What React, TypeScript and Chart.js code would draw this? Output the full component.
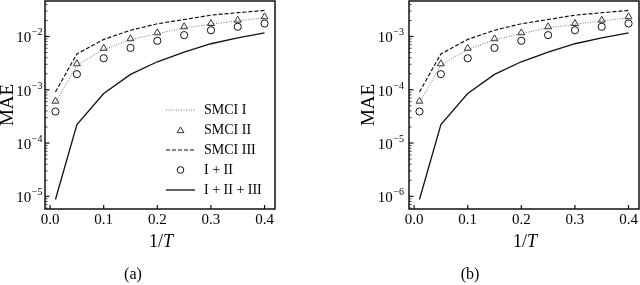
import React, { useEffect, useRef } from 'react';
import { Chart, registerables } from 'chart.js';

Chart.register(...registerables);

const FONT = "'Liberation Serif', 'Times New Roman', serif";

// ---------- data ----------
const xValues = [0.01, 0.05, 0.1, 0.15, 0.2, 0.25, 0.3, 0.35, 0.4];
const xTicks = [0, 0.1, 0.2, 0.3, 0.4];
const xTickLabels = ['0.0', '0.1', '0.2', '0.3', '0.4'];
const seriesNames = ['SMCI I', 'SMCI II', 'SMCI III', 'I + II', 'I + II + III'];

// panel (a)
const smciI_A = [5.7e-4, 2.9e-3, 5.7e-3, 8.7e-3, 1.13e-2, 1.45e-2, 1.7e-2, 1.96e-2, 2.25e-2];
const smciII_A = [6.1e-4, 3.07e-3, 6.0e-3, 9.05e-3, 1.17e-2, 1.52e-2, 1.75e-2, 2.02e-2, 2.34e-2];
const smciIII_A = [9.1e-4, 4.7e-3, 8.8e-3, 1.31e-2, 1.73e-2, 2.08e-2, 2.51e-2, 2.79e-2, 3.08e-2];
const iPlusII_A = [3.9e-4, 1.96e-3, 3.9e-3, 6.1e-3, 8.3e-3, 1.06e-2, 1.31e-2, 1.52e-2, 1.75e-2];
const iPlusIIPlusIII_A = [8.7e-6, 2.23e-4, 8.5e-4, 1.94e-3, 3.35e-3, 5.1e-3, 7.3e-3, 9.4e-3, 1.17e-2];
const yMajorA = [1e-5, 1e-4, 1e-3, 1e-2];
const yExpA = ['\u22125', '\u22124', '\u22123', '\u22122'];

// panel (b)
const smciI_B = [5.7e-5, 2.9e-4, 5.7e-4, 8.7e-4, 1.13e-3, 1.45e-3, 1.7e-3, 1.96e-3, 2.25e-3];
const smciII_B = [6.1e-5, 3.07e-4, 6.0e-4, 9.05e-4, 1.17e-3, 1.52e-3, 1.75e-3, 2.02e-3, 2.34e-3];
const smciIII_B = [9.1e-5, 4.7e-4, 8.8e-4, 1.31e-3, 1.73e-3, 2.08e-3, 2.51e-3, 2.79e-3, 3.08e-3];
const iPlusII_B = [3.9e-5, 1.96e-4, 3.9e-4, 6.1e-4, 8.3e-4, 1.06e-3, 1.31e-3, 1.52e-3, 1.75e-3];
const iPlusIIPlusIII_B = [8.7e-7, 2.23e-5, 8.5e-5, 1.94e-4, 3.35e-4, 5.1e-4, 7.3e-4, 9.4e-4, 1.17e-3];
const yMajorB = [1e-6, 1e-5, 1e-4, 1e-3];
const yExpB = ['\u22126', '\u22125', '\u22124', '\u22123'];

// ---------- panel component ----------
type PanelProps = {
  series: number[][];
  yMajor: number[];
  yExp: string[];
  yMin: number;
  yMax: number;
  padLeft: number;
  yWidth: number;
  padRight: number;
  labelGap: number;
  caption: string;
  captionX: number;
  legend: boolean;
  left: number;
};

function minorTicks(yMin: number, yMax: number): number[] {
  const out: number[] = [];
  const e0 = Math.floor(Math.log10(yMin));
  const e1 = Math.ceil(Math.log10(yMax));
  for (let e = e0; e <= e1; e++) {
    for (let m = 1; m <= 9; m++) {
      const v = m * Math.pow(10, e);
      if (v >= yMin && v <= yMax) out.push(v);
    }
  }
  return out;
}

function drawTriangle(ctx: CanvasRenderingContext2D, x: number, y: number, r: number) {
  ctx.beginPath();
  ctx.moveTo(x, y - r);
  ctx.lineTo(x + r * 0.95, y + r * 0.6);
  ctx.lineTo(x - r * 0.95, y + r * 0.6);
  ctx.closePath();
  ctx.stroke();
}

function Panel(p: PanelProps) {
  const ref = useRef<HTMLCanvasElement | null>(null);
  useEffect(() => {
    if (!ref.current) return;
    const allY = minorTicks(p.yMin, p.yMax);
    const decor = {
      id: 'decor',
      afterDraw(chart: any) {
        const ctx: CanvasRenderingContext2D = chart.ctx;
        const a = chart.chartArea;
        const xs = chart.scales.x;
        const ys = chart.scales.y;
        ctx.save();
        // frame
        ctx.strokeStyle = '#111';
        ctx.lineWidth = 1.5;
        ctx.setLineDash([]);
        ctx.strokeRect(a.left, a.top, a.right - a.left, a.bottom - a.top);
        // x ticks (inward) + labels
        ctx.lineWidth = 1.2;
        ctx.fillStyle = '#000';
        ctx.font = `15px ${FONT}`;
        ctx.textAlign = 'center';
        ctx.textBaseline = 'alphabetic';
        xTicks.forEach((v, i) => {
          const px = xs.getPixelForValue(v);
          ctx.beginPath();
          ctx.moveTo(px, a.bottom);
          ctx.lineTo(px, a.bottom - 4);
          ctx.stroke();
          ctx.fillText(xTickLabels[i], px, 224);
        });
        // y ticks (inward)
        allY.forEach((v) => {
          const py = ys.getPixelForValue(v);
          const major = p.yMajor.some((m) => Math.abs(m - v) / m < 1e-6);
          ctx.lineWidth = major ? 1.2 : 0.8;
          ctx.beginPath();
          ctx.moveTo(a.left, py);
          ctx.lineTo(a.left + (major ? 4.5 : 2.5), py);
          ctx.stroke();
        });
        // y tick labels 10^n
        p.yMajor.forEach((v, i) => {
          const py = ys.getPixelForValue(v);
          const xr = a.left - p.labelGap;
          ctx.font = `10px ${FONT}`;
          const we = ctx.measureText(p.yExp[i]).width;
          ctx.textAlign = 'left';
          ctx.textBaseline = 'alphabetic';
          ctx.fillText(p.yExp[i], xr - we, py - 1);
          ctx.font = `15px ${FONT}`;
          ctx.textAlign = 'right';
          ctx.fillText('10', xr - we - 0.5, py + 6);
        });
        // x axis title 1/T
        const cx = (a.left + a.right) / 2 + 1;
        ctx.font = `18px ${FONT}`;
        const w1 = ctx.measureText('1/').width;
        ctx.font = `italic 18px ${FONT}`;
        const w2 = ctx.measureText('T').width;
        const sx = cx - (w1 + w2) / 2;
        ctx.textAlign = 'left';
        ctx.textBaseline = 'alphabetic';
        ctx.font = `18px ${FONT}`;
        ctx.fillText('1/', sx, 246.5);
        ctx.font = `italic 18px ${FONT}`;
        ctx.fillText('T', sx + w1, 246.5);
        // caption
        ctx.font = `16px ${FONT}`;
        ctx.textAlign = 'center';
        ctx.fillText(p.caption, p.captionX, 279);
        // legend
        if (p.legend) {
          const lx0 = 166;
          const lx1 = 195;
          const tx = 204;
          chart.data.datasets.forEach((ds: any, i: number) => {
            const y = 110 + i * 20;
            ctx.strokeStyle = ds.borderColor;
            ctx.lineWidth = ds.borderWidth;
            if (ds.showLine === false) {
              ctx.setLineDash([]);
              ctx.lineWidth = 1;
              if (ds.pointStyle === 'triangle') drawTriangle(ctx, (lx0 + lx1) / 2, y + 0.5, 3.6);
              else {
                ctx.beginPath();
                ctx.arc((lx0 + lx1) / 2, y, 3.3, 0, Math.PI * 2);
                ctx.stroke();
              }
            } else {
              ctx.setLineDash(ds.borderDash || []);
              ctx.beginPath();
              ctx.moveTo(lx0, y);
              ctx.lineTo(lx1, y);
              ctx.stroke();
            }
            ctx.setLineDash([]);
            ctx.fillStyle = '#000';
            ctx.font = `14px ${FONT}`;
            ctx.textAlign = 'left';
            ctx.textBaseline = 'middle';
            ctx.fillText(ds.label, tx, y + 0.5);
          });
        }
        ctx.restore();
      },
    };

    const mk = (i: number) => xValues.map((x, k) => ({ x, y: p.series[i][k] }));
    const chart = new Chart(ref.current, {
      type: 'line',
      data: {
        datasets: [
          {
            label: seriesNames[0], data: mk(0), borderColor: '#777', borderWidth: 1,
            borderDash: [1, 1.5], pointRadius: 0, fill: false, order: 4,
          },
          {
            label: seriesNames[1], data: mk(1), borderColor: '#333', borderWidth: 1,
            showLine: false, pointStyle: 'triangle', pointRadius: 4,
            pointBackgroundColor: 'rgba(0,0,0,0)', pointBorderColor: '#333', pointBorderWidth: 1, order: 1,
          },
          {
            label: seriesNames[2], data: mk(2), borderColor: '#111', borderWidth: 1.2,
            borderDash: [4, 2], pointRadius: 0, fill: false, order: 3,
          },
          {
            label: seriesNames[3], data: mk(3), borderColor: '#111', borderWidth: 1,
            showLine: false, pointStyle: 'circle', pointRadius: 3.6,
            pointBackgroundColor: 'rgba(0,0,0,0)', pointBorderColor: '#111', pointBorderWidth: 1, order: 2,
          },
          {
            label: seriesNames[4], data: mk(4), borderColor: '#111', borderWidth: 1.3,
            pointRadius: 0, fill: false, order: 5,
          },
        ] as any,
      },
      options: {
        animation: false,
        responsive: false,
        devicePixelRatio: 1,
        layout: { autoPadding: false, padding: { left: p.padLeft, right: p.padRight, top: 1, bottom: 0 } },
        plugins: { legend: { display: false }, tooltip: { enabled: false }, title: { display: false } },
        elements: { line: { tension: 0 } },
        scales: {
          x: {
            type: 'linear',
            min: -0.0095,
            max: 0.4195,
            grid: { display: false, drawTicks: false },
            border: { display: false },
            afterBuildTicks: (s: any) => { s.ticks = xTicks.map((v) => ({ value: v })); },
            afterFit: (s: any) => { s.height = 76; },
            ticks: { display: false },
          },
          y: {
            type: 'logarithmic',
            min: p.yMin,
            max: p.yMax,
            grid: { display: false, drawTicks: false },
            border: { display: false },
            afterBuildTicks: (s: any) => { s.ticks = allY.map((v) => ({ value: v })); },
            afterFit: (s: any) => { s.width = p.yWidth; },
            ticks: { display: false },
            title: {
              display: true, text: 'MAE', color: '#000',
              font: { family: FONT, size: 19, lineHeight: 1 }, padding: -1,
            },
          },
        },
      } as any,
      plugins: [decor],
    });
    return () => chart.destroy();
  }, []);
  return (
    <div style={{ position: 'absolute', left: p.left, top: 0, width: 320, height: 285 }}>
      <canvas ref={ref} width={320} height={285} style={{ width: 320, height: 285, display: 'block' }} />
    </div>
  );
}

export default function App() {
  return (
    <div style={{ position: 'fixed', left: 0, top: 0, width: 640, height: 285, background: '#fff' }}>
      <Panel
        series={[smciI_A, smciII_A, smciIII_A, iPlusII_A, iPlusIIPlusIII_A]}
        yMajor={yMajorA}
        yExp={yExpA}
        yMin={5.78e-6}
        yMax={4.63e-2}
        padLeft={0}
        yWidth={45}
        padRight={45}
        labelGap={2.5}
        caption="(a)"
        captionX={133}
        legend={true}
        left={0}
      />
      <Panel
        series={[smciI_B, smciII_B, smciIII_B, iPlusII_B, iPlusIIPlusIII_B]}
        yMajor={yMajorB}
        yExp={yExpB}
        yMin={5.78e-7}
        yMax={4.63e-3}
        padLeft={41}
        yWidth={48}
        padRight={1}
        labelGap={5}
        caption="(b)"
        captionX={150}
        legend={false}
        left={320}
      />
    </div>
  );
}
